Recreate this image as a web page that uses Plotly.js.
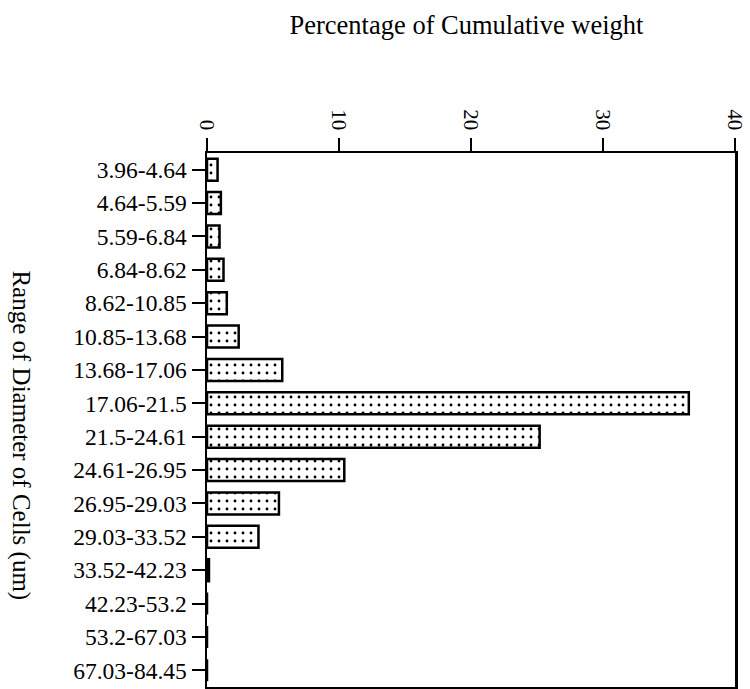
<!DOCTYPE html>
<html>
<head>
<meta charset="utf-8">
<script src="https://cdn.plot.ly/plotly-3.0.1.min.js"></script>
<style>html,body{margin:0;padding:0;background:#fff;}#chart{width:750px;height:689px;}</style>
</head>
<body>
<div id="chart"></div>
<script>
const categories = ["3.96-4.64","4.64-5.59","5.59-6.84","6.84-8.62","8.62-10.85","10.85-13.68","13.68-17.06","17.06-21.5","21.5-24.61","24.61-26.95","26.95-29.03","29.03-33.52","33.52-42.23","42.23-53.2","53.2-67.03","67.03-84.45"];
const percentWeight = [0.8, 1.05, 0.95, 1.25, 1.5, 2.4, 5.7, 36.5, 25.2, 10.4, 5.45, 3.9, 0.15, 0, 0, 0];
const xTicks = [0, 10, 20, 30, 40];

const serif = "'Liberation Serif', 'Times New Roman', serif";

const trace = {
  type: 'bar',
  orientation: 'h',
  y: categories,
  x: percentWeight,
  marker: {
    color: 'white',
    line: {color: 'black', width: 2.5},
    pattern: {shape: '.', fgcolor: 'black', bgcolor: 'white', size: 8, solidity: 0.1}
  },
  hoverinfo: 'none'
};

const layout = {
  width: 750, height: 689,
  margin: {l: 207, r: 15, t: 153, b: 2, pad: 0},
  paper_bgcolor: 'white', plot_bgcolor: 'white',
  showlegend: false,
  bargap: 0.34,
  font: {family: serif, color: 'black'},
  title: {
    text: 'Percentage of Cumulative weight',
    font: {family: serif, size: 26.5, color: 'black'},
    xref: 'container', x: 0.622, xanchor: 'center',
    yref: 'container', y: 0.964, yanchor: 'middle'
  },
  xaxis: {
    side: 'top',
    range: [0, 40],
    tickvals: xTicks,
    ticktext: xTicks.map(String),
    tickangle: 90,
    ticks: 'outside', ticklen: 13, tickwidth: 2, tickcolor: 'black',
    tickfont: {family: serif, size: 21, color: 'black'},
    showline: true, linecolor: 'black', linewidth: 2.5, mirror: true,
    showgrid: false, zeroline: false, fixedrange: true
  },
  yaxis: {
    type: 'category',
    categoryorder: 'array', categoryarray: categories,
    range: [15.5, -0.5],
    ticks: 'outside', ticklen: 13, tickwidth: 2, tickcolor: 'black',
    tickfont: {family: serif, size: 23.5, color: 'black'},
    showline: true, linecolor: 'black', linewidth: 2.5, mirror: true,
    showgrid: false, zeroline: false, fixedrange: true
  },
  annotations: [{
    text: 'Range of Diameter of Cells (um)',
    textangle: 90,
    xref: 'paper', yref: 'paper',
    x: -0.354, y: 0.471, xanchor: 'center', yanchor: 'middle',
    showarrow: false,
    font: {family: serif, size: 25, color: 'black'}
  }]
};

Plotly.newPlot('chart', [trace], layout, {displayModeBar: false, staticPlot: true});
</script>
</body>
</html>
